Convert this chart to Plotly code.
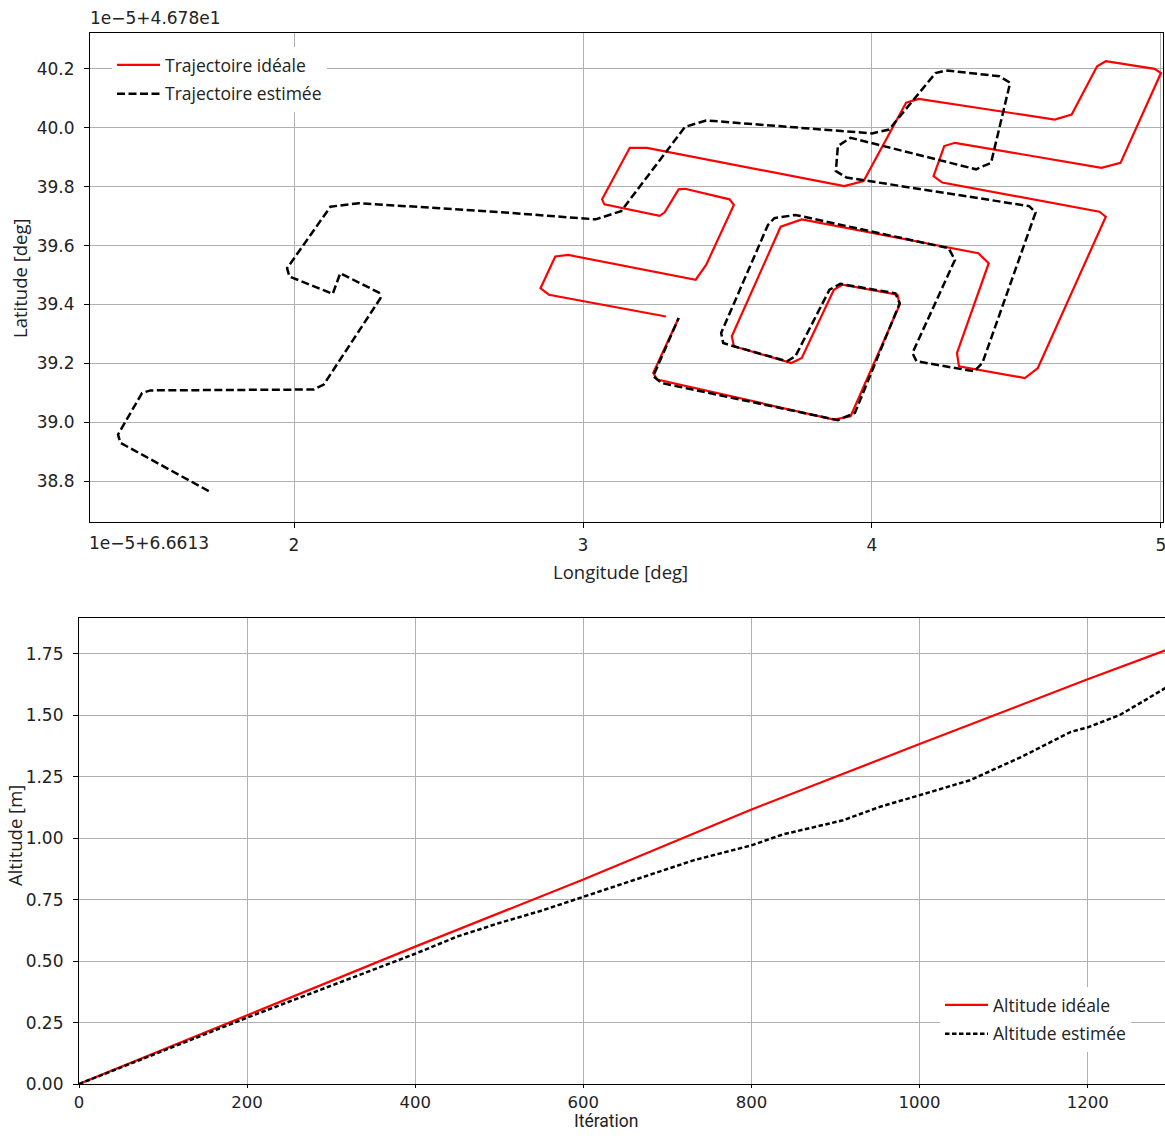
import plotly.graph_objects as go

# ---------------- data ----------------
# Top panel: longitude offset values (x 1e-5 + 6.6613) and latitude (x 1e-5 + 46.78)
ideal_lon = [3.331, 3.243, 3.257, 3.868, 3.926, 4.096, 4.088, 3.897, 3.868, 3.757,
             3.721, 3.522, 3.515, 3.684, 3.757, 4.368, 4.404, 4.294, 4.301, 4.529,
             4.574, 4.809, 4.787, 4.243, 4.213, 4.250, 4.287, 4.794, 4.860, 5.000,
             4.978, 4.809, 4.779, 4.691, 4.632, 4.162, 4.118, 3.971, 3.904, 3.221,
             3.162, 3.066, 3.074, 3.265, 3.282, 3.331, 3.353, 3.507, 3.522, 3.426,
             3.390, 2.949, 2.904, 2.853, 2.882, 3.287]
ideal_lat = [39.354, 39.167, 39.145, 39.009, 39.020, 39.399, 39.433, 39.467, 39.450, 39.218,
             39.201, 39.258, 39.292, 39.664, 39.689, 39.574, 39.540, 39.235, 39.190, 39.150,
             39.184, 39.698, 39.715, 39.814, 39.836, 39.938, 39.949, 39.864, 39.881, 40.186,
             40.200, 40.226, 40.209, 40.045, 40.028, 40.098, 40.085, 39.819, 39.802, 39.932,
             39.932, 39.757, 39.740, 39.701, 39.712, 39.791, 39.793, 39.757, 39.738, 39.534,
             39.484, 39.568, 39.563, 39.455, 39.433, 39.359]

est_lon = [1.705, 1.399, 1.391, 1.474, 1.503, 2.068, 2.103, 2.299, 2.294, 2.160,
           2.134, 1.984, 1.976, 2.126, 2.224, 2.706, 3.044, 3.132, 3.353, 3.426,
           4.000, 4.059, 4.220, 4.257, 4.441, 4.478, 4.412, 4.360, 3.926, 3.882,
           3.875, 3.912, 4.544, 4.566, 4.382, 4.353, 4.154, 4.140, 4.287, 4.265,
           3.735, 3.662, 3.640, 3.478, 3.485, 3.522, 3.706, 3.735, 3.853, 3.890,
           4.081, 4.096, 3.941, 3.882, 3.272, 3.243, 3.331]
est_lat = [38.766, 38.930, 38.958, 39.099, 39.108, 39.111, 39.128, 39.421, 39.440, 39.506,
           39.436, 39.495, 39.523, 39.732, 39.744, 39.714, 39.689, 39.717, 40.003, 40.025,
           39.981, 39.994, 40.186, 40.195, 40.175, 40.153, 39.881, 39.859, 39.966, 39.938,
           39.853, 39.831, 39.734, 39.712, 39.201, 39.173, 39.207, 39.235, 39.551, 39.591,
           39.704, 39.693, 39.670, 39.303, 39.269, 39.258, 39.207, 39.224, 39.450, 39.470,
           39.438, 39.404, 39.032, 39.007, 39.133, 39.156, 39.354]

# Bottom panel: altitude vs iteration
iter_ideal = [0, 200, 400, 600, 800, 1000, 1200, 1300]
alt_ideal = [0.0, 0.280, 0.559, 0.832, 1.117, 1.383, 1.647, 1.774]

iter_est = [0, 100, 200, 300, 400, 450, 500, 550, 600, 664, 731, 800, 837, 909,
            953, 1000, 1060, 1122, 1180, 1200, 1238, 1269, 1300]
alt_est = [0.0, 0.135, 0.270, 0.400, 0.530, 0.600, 0.655, 0.705, 0.762, 0.832, 0.910,
           0.971, 1.015, 1.073, 1.128, 1.175, 1.236, 1.332, 1.433, 1.451, 1.501, 1.563, 1.627]

top_xticks = [2, 3, 4, 5]
top_yticks = [38.8, 39.0, 39.2, 39.4, 39.6, 39.8, 40.0, 40.2]
bot_xticks = [0, 200, 400, 600, 800, 1000, 1200]
bot_yticks = [0.0, 0.25, 0.5, 0.75, 1.0, 1.25, 1.5, 1.75]

# ---------------- figure ----------------
W, H = 1165, 1132
RED = "#ff0000"
BLACK = "#000000"
TICKFONT = dict(family="DejaVu Sans", size=17, color="#222222")
TITLEFONT = dict(family="Open Sans", size=18.5, color="#222222")
LEGFONT = dict(family="Open Sans", size=17.5, color="#222222")

fig = go.Figure()
fig.add_trace(go.Scatter(x=ideal_lon, y=ideal_lat, mode="lines", name="Trajectoire idéale",
                         line=dict(color=RED, width=2.2), xaxis="x", yaxis="y",
                         legend="legend", legendgroup="a"))
fig.add_trace(go.Scatter(x=est_lon, y=est_lat, mode="lines", name="Trajectoire estimée",
                         line=dict(color=BLACK, width=2.5, dash="8px,3.5px"), xaxis="x", yaxis="y",
                         legend="legend", legendgroup="b"))
fig.add_trace(go.Scatter(x=iter_ideal, y=alt_ideal, mode="lines", name="Altitude idéale",
                         line=dict(color=RED, width=2.2), xaxis="x2", yaxis="y2",
                         legend="legend2", legendgroup="c"))
fig.add_trace(go.Scatter(x=iter_est, y=alt_est, mode="lines", name="Altitude estimée",
                         line=dict(color=BLACK, width=2.5, dash="4.5px,2.5px"), xaxis="x2",
                         yaxis="y2", legend="legend2", legendgroup="d"))


def px_x(p):
    return p / W


def px_y(p):
    return 1 - p / H


axis_common = dict(showline=True, linecolor="#000000", linewidth=1.2, mirror=True,
                   ticks="outside", ticklen=5, tickcolor="#000000", tickwidth=1,
                   showgrid=True, gridcolor="#b0b0b0", gridwidth=1, zeroline=False,
                   tickfont=TICKFONT, ticklabeloverflow="allow")

fig.update_layout(
    width=W, height=H,
    margin=dict(l=0, r=0, t=0, b=0, autoexpand=False),
    paper_bgcolor="white", plot_bgcolor="white",
    showlegend=True,
    xaxis=dict(axis_common, domain=[px_x(90), px_x(1163)], range=[1.294, 5.007],
               tickvals=top_xticks, ticktext=[str(v) for v in top_xticks], anchor="y",
               ticklabelstandoff=2),
    yaxis=dict(axis_common, domain=[px_y(522), px_y(33)], range=[38.661, 40.322],
               tickvals=top_yticks, ticktext=[f"{v:.1f}" for v in top_yticks], anchor="x",
               ticklabelstandoff=6),
    xaxis2=dict(axis_common, domain=[px_x(79), 1.0], range=[0, 1292],
                tickvals=bot_xticks, ticktext=[str(v) for v in bot_xticks], anchor="y2",
                ticklen=3, ticklabelstandoff=0, tickfont=dict(TICKFONT, size=16.5)),
    yaxis2=dict(axis_common, domain=[px_y(1084), px_y(618)], range=[0, 1.896],
                tickvals=bot_yticks, ticktext=[f"{v:.2f}" for v in bot_yticks], anchor="x2",
                ticklabelstandoff=6),
    legend=dict(x=px_x(112), y=px_y(47), xanchor="left", yanchor="top",
                bgcolor="white", borderwidth=0, font=LEGFONT,
                itemwidth=43, tracegroupgap=3),
    legend2=dict(x=px_x(940), y=px_y(987), xanchor="left", yanchor="top",
                 bgcolor="white", borderwidth=0, font=LEGFONT,
                 itemwidth=43, tracegroupgap=3),
    annotations=[
        dict(text="1e\u22125+4.678e1", x=px_x(88), y=px_y(18), xref="paper", yref="paper",
             xanchor="left", yanchor="middle", showarrow=False, font=TICKFONT),
        dict(text="1e\u22125+6.6613", x=px_x(87), y=px_y(543), xref="paper", yref="paper",
             xanchor="left", yanchor="middle", showarrow=False, font=TICKFONT),
        dict(text="Longitude [deg]", x=px_x(620), y=px_y(571), xref="paper", yref="paper",
             xanchor="center", yanchor="middle", showarrow=False, font=TITLEFONT),
        dict(text="Latitude [deg]", x=px_x(20), y=px_y(278), xref="paper", yref="paper",
             xanchor="center", yanchor="middle", showarrow=False, textangle=-90, font=TITLEFONT),
        dict(text="Itération", x=px_x(606), y=0, xref="paper", yref="paper",
             xanchor="center", yanchor="bottom", borderpad=0, showarrow=False,
             font=dict(family="Roboto", size=17.5, color="#222222")),
        dict(text="Altitude [m]", x=px_x(14), y=px_y(836), xref="paper", yref="paper",
             xanchor="center", yanchor="middle", showarrow=False, textangle=-90, font=TITLEFONT),
    ],
)

fig.write_html("out.html")
